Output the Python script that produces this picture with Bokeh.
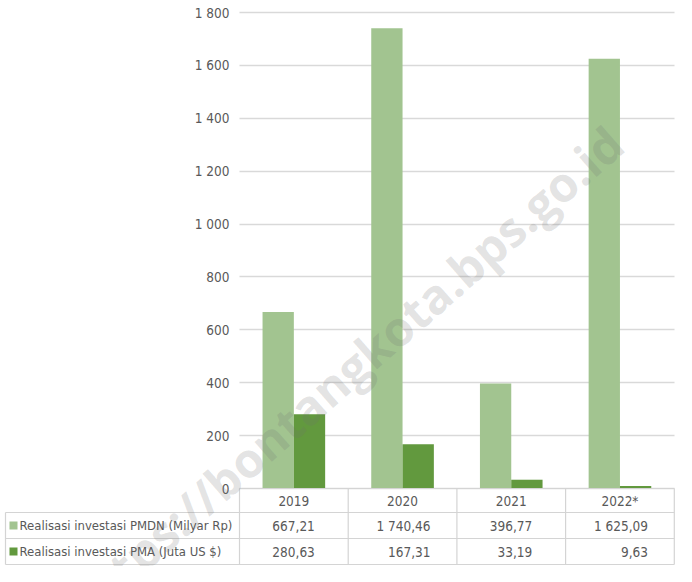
from bokeh.plotting import figure
from bokeh.models import ColumnDataSource, Grid, FixedTicker, Label, Range1d
from bokeh.core.properties import value
from bokeh.embed import file_html
from bokeh.resources import INLINE

# ---- data ----
categories = ["2019", "2020", "2021", "2022*"]
pmdn = [667.21, 1740.46, 396.77, 1625.09]
pma = [280.63, 167.31, 33.19, 9.63]
series_labels = ["Realisasi investasi PMDN (Milyar Rp)", "Realisasi investasi PMA (Juta US $)"]
series_colors = ["#A2C490", "#62993E"]
y_ticks = [0, 200, 400, 600, 800, 1000, 1200, 1400, 1600, 1800]
watermark = "https://bontangkota.bps.go.id"

# ---- layout helpers (pixels -> data) ----
W, H = 676, 566
frame_left_px = 239
px_per_unit_x = 108.7
x0 = -frame_left_px / px_per_unit_x
x1 = x0 + W / px_per_unit_x

top_px, zero_px = 12, 488
u_per_px = 1800 / (zero_px - top_px)
y1 = 1800 + top_px * u_per_px
y0 = -(H - zero_px) * u_per_px
row_px = [24, 26, 26]
row_edges = [0]
for h in row_px:
    row_edges.append(row_edges[-1] - h * u_per_px)

def xpx(px):
    return (px - frame_left_px) / px_per_unit_x

FONT = value("Liberation Sans Narrow, DejaVu Sans Condensed, Roboto")
TXT = "#595959"
LINE = "#D4D4D4"

p = figure(width=W, height=H, x_range=Range1d(x0, x1), y_range=Range1d(y0, y1),
           x_axis_type=None, y_axis_type=None, output_backend="svg",
           toolbar_location=None, min_border=0)
p.outline_line_color = None
p.background_fill_color = "white"
p.border_fill_color = "white"

grid = Grid(dimension=1, ticker=FixedTicker(ticks=y_ticks), grid_line_color="#D9D9D9",
            grid_line_width=1.4, cross_bounds=(0, 4))
p.add_layout(grid)

# bars
n = len(categories)
bw = 0.288
src = ColumnDataSource(dict(
    xa=[i + 0.5 - bw / 2 for i in range(n)],
    xb=[i + 0.5 + bw / 2 for i in range(n)],
    pmdn=pmdn, pma=pma))
p.vbar(x="xa", top="pmdn", bottom=0, width=bw, source=src, fill_color=series_colors[0], line_color=None)
p.vbar(x="xb", top="pma", bottom=0, width=bw, source=src, fill_color=series_colors[1], line_color=None)

# y tick labels
p.text(x=[xpx(229)] * len(y_ticks), y=y_ticks,
       text=[f"{t:,}".replace(",", " ") for t in y_ticks],
       text_align="right", text_baseline="middle", text_font=FONT,
       text_font_size="13.5px", text_color=TXT)

# table lines
left_px = xpx(5)
hx0 = [0, left_px, left_px, left_px]
hy = row_edges
vx = [i for i in range(n + 1)]
xs0 = hx0 + vx + [left_px]
xs1 = [4] * 4 + vx + [left_px]
ys0 = hy + [0] * (n + 1) + [row_edges[1]]
ys1 = hy + [row_edges[-1]] * (n + 1) + [row_edges[-1]]
p.segment(x0=xs0, y0=ys0, x1=xs1, y1=ys1, line_color=LINE, line_width=1.2)

# year row
yc0 = (row_edges[0] + row_edges[1]) / 2
p.text(x=[i + 0.5 for i in range(n)], y=[yc0] * n, text=categories,
       text_align="center", text_baseline="middle", text_font=FONT,
       text_font_size="13.5px", text_color=TXT)

def fmt(v):
    return f"{v:,.2f}".replace(",", " ").replace(".", ",")

offs = []
for i in range(n):
    w = max(len(fmt(pmdn[i])), len(fmt(pma[i])))
    offs.append(w * 7.0 / 2 / px_per_unit_x)

for r, (vals, lab, col) in enumerate(zip([pmdn, pma], series_labels, series_colors)):
    yc = (row_edges[r + 1] + row_edges[r + 2]) / 2
    p.text(x=[i + 0.5 + offs[i] for i in range(n)], y=[yc] * n,
           text=[fmt(v) for v in vals], text_align="right", text_baseline="middle",
           text_font=FONT, text_font_size="13.5px", text_color=TXT)
    p.scatter(x=[xpx(13)], y=[yc], marker="square", size=8, fill_color=col, line_color=None)
    p.text(x=[xpx(19)], y=[yc], text=[lab], text_align="left", text_baseline="middle",
           text_font=FONT, text_font_size="13px", text_color=TXT)

# watermark
p.add_layout(Label(x=345, y=H - 372, x_units="screen", y_units="screen", text=watermark,
                   angle=0.72, text_align="center", text_baseline="middle",
                   text_font="Open Sans", text_font_style="bold",
                   text_font_size="48px", text_color="#707070", text_alpha=0.2))

open("out.html", "w").write(file_html(p, INLINE))
